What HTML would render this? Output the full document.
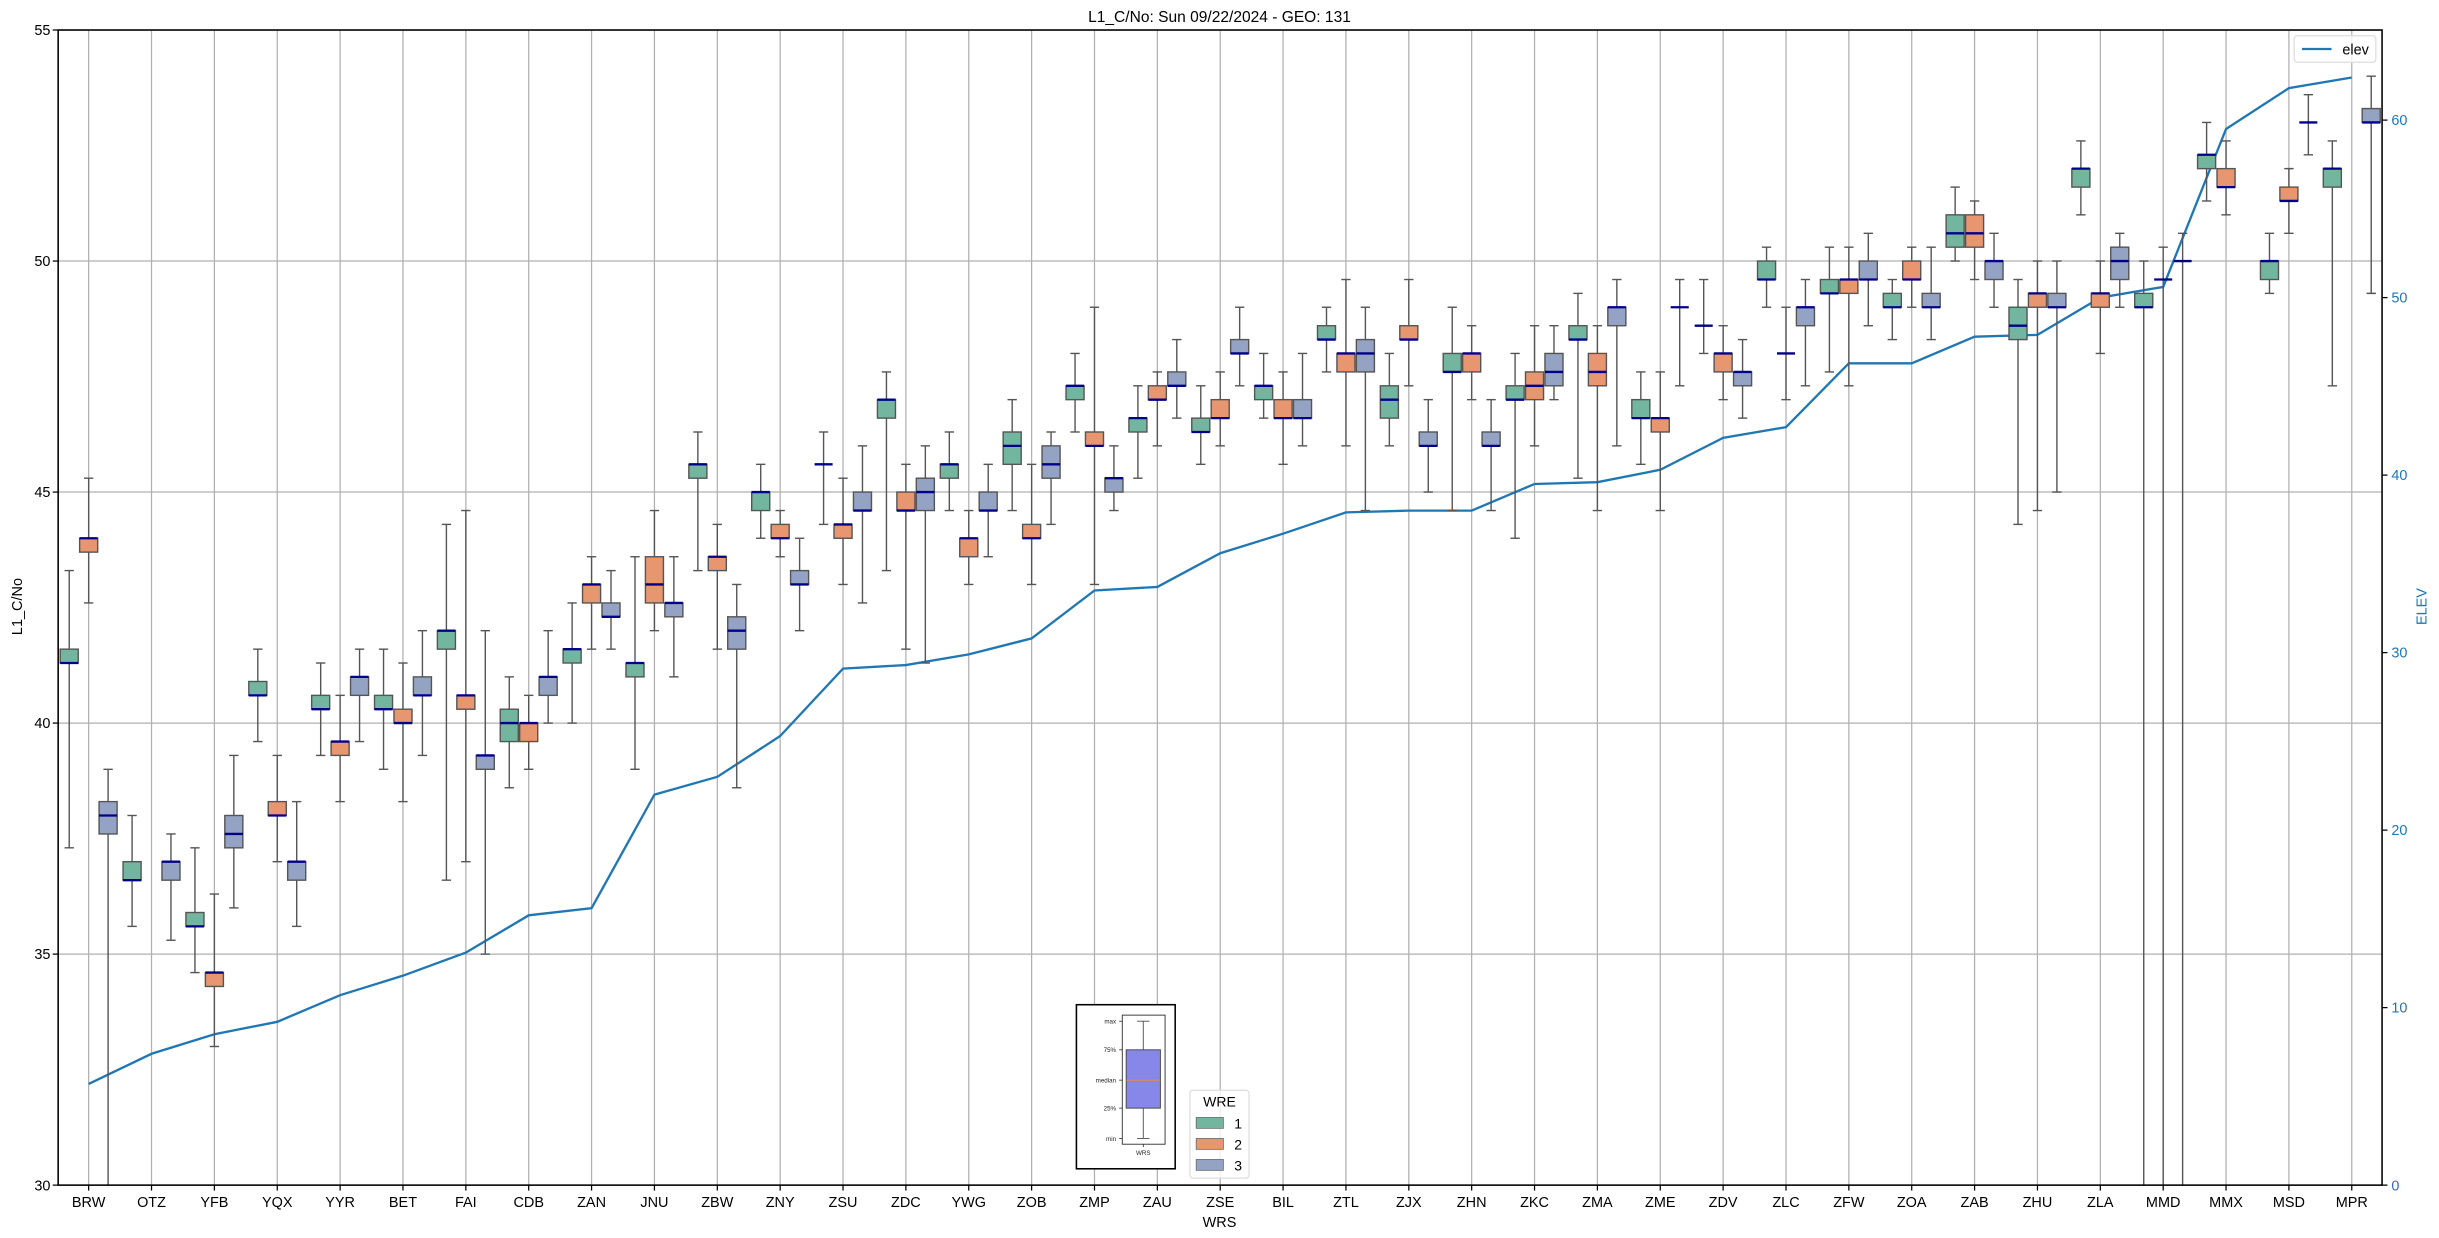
<!DOCTYPE html>
<html><head><meta charset="utf-8">
<style>
html,body{margin:0;padding:0;background:#fff;width:2439px;height:1238px;overflow:hidden;}
svg{display:block;}
text{font-family:"Liberation Sans","DejaVu Sans",sans-serif;}
</style></head>
<body>
<svg id="chart" width="2439" height="1238" viewBox="0 0 1568 796" xmlns="http://www.w3.org/2000/svg">
<defs><clipPath id="plotclip"><rect x="37.3" y="19.3" width="1494" height="742.7"/></clipPath></defs>
<rect x="0" y="0" width="1568" height="796" fill="#fff"/>
<g id="grid"></g>
<g id="elevg" clip-path="url(#plotclip)"></g>
<g id="boxes" clip-path="url(#plotclip)"></g>
<g id="axes"></g>
<text x="784" y="14" text-anchor="middle" font-size="10">L1_C/No: Sun 09/22/2024 - GEO: 131</text>
<text x="784" y="789" text-anchor="middle" font-size="9.3">WRS</text>
<text x="14" y="390" text-anchor="middle" font-size="9.3" transform="rotate(-90 14 390)">L1_C/No</text>
<text x="1560" y="390" text-anchor="middle" font-size="9.3" fill="#1f77b4" transform="rotate(-90 1560 390)">ELEV</text>

<g>
<rect x="692" y="646" width="63.5" height="105.5" fill="#fff" stroke="#000" stroke-width="1"/>
<rect x="721.5" y="652.7" width="27.5" height="83" fill="#fff" stroke="#333" stroke-width="0.6"/>
<line x1="735" y1="656.6" x2="735" y2="732" stroke="#555" stroke-width="0.6"/>
<line x1="731" y1="656.6" x2="739" y2="656.6" stroke="#555" stroke-width="0.6"/>
<line x1="731" y1="732" x2="739" y2="732" stroke="#555" stroke-width="0.6"/>
<rect x="724" y="675" width="22" height="37.5" fill="#8787ea" stroke="#444" stroke-width="0.6"/>
<line x1="724" y1="694.5" x2="746" y2="694.5" stroke="#ff8c00" stroke-width="0.5"/>
<g font-size="4" fill="#222" text-anchor="end">
<text x="717.5" y="658">max</text><text x="717.5" y="676.5">75%</text><text x="717.5" y="696">median</text><text x="717.5" y="714">25%</text><text x="717.5" y="733.5">min</text>
</g>
<g stroke="#222" stroke-width="0.5">
<line x1="719.5" y1="656.6" x2="721.5" y2="656.6"/><line x1="719.5" y1="675" x2="721.5" y2="675"/><line x1="719.5" y1="694.5" x2="721.5" y2="694.5"/><line x1="719.5" y1="712.5" x2="721.5" y2="712.5"/><line x1="719.5" y1="732" x2="721.5" y2="732"/>
<line x1="735" y1="735.7" x2="735" y2="737.5"/>
</g>
<text x="735" y="742.5" font-size="4" text-anchor="middle" fill="#222">WRS</text>
</g>

<g>
<rect x="765" y="701" width="38" height="56.5" rx="2" fill="#fff" fill-opacity="0.8" stroke="#ddd" stroke-width="0.8"/>
<text x="784" y="711.5" font-size="9" text-anchor="middle">WRE</text>
<rect x="769" y="718.5" width="17.5" height="7" fill="#72b6a0" stroke="#666" stroke-width="0.5"/>
<text x="793.5" y="725.5" font-size="9">1</text>
<rect x="769" y="732" width="17.5" height="7" fill="#e8966f" stroke="#666" stroke-width="0.5"/>
<text x="793.5" y="739" font-size="9">2</text>
<rect x="769" y="745.5" width="17.5" height="7" fill="#94a3c4" stroke="#666" stroke-width="0.5"/>
<text x="793.5" y="752.5" font-size="9">3</text>
</g>

<g>
<rect x="1475" y="23" width="52.5" height="17" rx="2" fill="#fff" fill-opacity="0.8" stroke="#ddd" stroke-width="0.8"/>
<line x1="1480" y1="31.5" x2="1499" y2="31.5" stroke="#1f77b4" stroke-width="1.5"/>
<text x="1506" y="35" font-size="9.3">elev</text>
</g>

<script>
const categories = ["BRW","OTZ","YFB","YQX","YYR","BET","FAI","CDB","ZAN","JNU","ZBW","ZNY","ZSU","ZDC","YWG","ZOB","ZMP","ZAU","ZSE","BIL","ZTL","ZJX","ZHN","ZKC","ZMA","ZME","ZDV","ZLC","ZFW","ZOA","ZAB","ZHU","ZLA","MMD","MMX","MSD","MPR"];
// [min, q1, median, q3, max]
const wre1 = [
[37.3,41.3,41.3,41.6,43.3],[35.6,36.6,36.6,37.0,38.0],[34.6,35.6,35.6,35.9,37.3],[39.6,40.6,40.6,40.9,41.6],[39.3,40.3,40.3,40.6,41.3],
[39.0,40.3,40.3,40.6,41.6],[36.6,41.6,42.0,42.0,44.3],[38.6,39.6,40.0,40.3,41.0],[40.0,41.3,41.6,41.6,42.6],[39.0,41.0,41.3,41.3,43.6],
[43.3,45.3,45.6,45.6,46.3],[44.0,44.6,45.0,45.0,45.6],[44.3,45.6,45.6,45.6,46.3],[43.3,46.6,47.0,47.0,47.6],[44.6,45.3,45.6,45.6,46.3],
[44.6,45.6,46.0,46.3,47.0],[46.3,47.0,47.3,47.3,48.0],[45.3,46.3,46.6,46.6,47.3],[45.6,46.3,46.3,46.6,47.3],[46.6,47.0,47.3,47.3,48.0],
[47.6,48.3,48.3,48.6,49.0],[46.0,46.6,47.0,47.3,48.0],[44.6,47.6,47.6,48.0,49.0],[44.0,47.0,47.0,47.3,48.0],[45.3,48.3,48.3,48.6,49.3],
[45.6,46.6,46.6,47.0,47.6],[48.0,48.6,48.6,48.6,49.6],[49.0,49.6,49.6,50.0,50.3],[47.6,49.3,49.3,49.6,50.3],[48.3,49.0,49.0,49.3,49.6],
[50.0,50.3,50.6,51.0,51.6],[44.3,48.3,48.6,49.0,49.6],[51.0,51.6,52.0,52.0,52.6],[29.0,49.0,49.0,49.3,50.0],[51.3,52.0,52.3,52.3,53.0],
[49.3,49.6,50.0,50.0,50.6],[47.3,51.6,52.0,52.0,52.6]];
const wre2 = [
[42.6,43.7,44.0,44.0,45.3],null,[33.0,34.3,34.6,34.6,36.3],[37.0,38.0,38.0,38.3,39.3],[38.3,39.3,39.6,39.6,40.6],
[38.3,40.0,40.0,40.3,41.3],[37.0,40.3,40.6,40.6,44.6],[39.0,39.6,40.0,40.0,40.6],[41.6,42.6,43.0,43.0,43.6],[42.0,42.6,43.0,43.6,44.6],
[41.6,43.3,43.6,43.6,44.3],[43.6,44.0,44.0,44.3,44.6],[43.0,44.0,44.3,44.3,45.3],[41.6,44.6,44.6,45.0,45.6],[43.0,43.6,44.0,44.0,44.6],
[43.0,44.0,44.0,44.3,45.6],[43.0,46.0,46.0,46.3,49.0],[46.0,47.0,47.0,47.3,47.6],[46.0,46.6,46.6,47.0,47.6],[45.6,46.6,46.6,47.0,47.6],
[46.0,47.6,48.0,48.0,49.6],[47.3,48.3,48.3,48.6,49.6],[47.0,47.6,48.0,48.0,48.6],[46.0,47.0,47.3,47.6,48.6],[44.6,47.3,47.6,48.0,48.6],
[44.6,46.3,46.6,46.6,47.6],[47.0,47.6,48.0,48.0,48.6],[47.0,48.0,48.0,48.0,49.0],[47.3,49.3,49.6,49.6,50.3],[49.0,49.6,49.6,50.0,50.3],
[49.6,50.3,50.6,51.0,51.3],[44.6,49.0,49.3,49.3,50.0],[48.0,49.0,49.3,49.3,50.0],[29.0,49.6,49.6,49.6,50.3],[51.0,51.6,51.6,52.0,52.6],
[50.6,51.3,51.3,51.6,52.0],null];
const wre3 = [
[29.0,37.6,38.0,38.3,39.0],[35.3,36.6,37.0,37.0,37.6],[36.0,37.3,37.6,38.0,39.3],[35.6,36.6,37.0,37.0,38.3],[39.6,40.6,41.0,41.0,41.6],
[39.3,40.6,40.6,41.0,42.0],[35.0,39.0,39.3,39.3,42.0],[40.0,40.6,41.0,41.0,42.0],[41.6,42.3,42.3,42.6,43.3],[41.0,42.3,42.6,42.6,43.6],
[38.6,41.6,42.0,42.3,43.0],[42.0,43.0,43.0,43.3,44.0],[42.6,44.6,44.6,45.0,46.0],[41.3,44.6,45.0,45.3,46.0],[43.6,44.6,44.6,45.0,45.6],
[44.3,45.3,45.6,46.0,46.3],[44.6,45.0,45.3,45.3,46.0],[46.6,47.3,47.3,47.6,48.3],[47.3,48.0,48.0,48.3,49.0],[46.0,46.6,46.6,47.0,48.0],
[44.6,47.6,48.0,48.3,49.0],[45.0,46.0,46.0,46.3,47.0],[44.6,46.0,46.0,46.3,47.0],[47.0,47.3,47.6,48.0,48.6],[46.0,48.6,49.0,49.0,49.6],
[47.3,49.0,49.0,49.0,49.6],[46.6,47.3,47.6,47.6,48.3],[47.3,48.6,49.0,49.0,49.6],[48.6,49.6,49.6,50.0,50.6],[48.3,49.0,49.0,49.3,50.3],
[49.0,49.6,50.0,50.0,50.6],[45.0,49.0,49.0,49.3,50.0],[49.0,49.6,50.0,50.3,50.6],[29.0,50.0,50.0,50.0,50.6],null,
[52.3,53.0,53.0,53.0,53.6],[49.3,53.0,53.0,53.3,54.0]];
const elev = [5.7,7.4,8.5,9.2,10.7,11.8,13.1,15.2,15.6,22.0,23.0,25.3,29.1,29.3,29.9,30.8,33.5,33.7,35.6,36.7,37.9,38.0,38.0,39.5,39.6,40.3,42.1,42.7,46.3,46.3,47.8,47.9,50.0,50.6,59.5,61.8,62.4];
const yTicks = [30,35,40,45,50,55];
const elevTicks = [0,10,20,30,40,50,60];

const NS = "http://www.w3.org/2000/svg";
const L = 37.3, R = 1531.5, T = 19.3, B = 762;
const X0 = 56.9, DX = 40.42;
function xPos(i){ return X0 + i*DX; }
function yPos(v){ return B - (v-30)/25*(B-T); }
function yElev(v){ return B - v*11.413; }
function mk(tag, attrs, parent){ const e=document.createElementNS(NS,tag); for(const k in attrs) e.setAttribute(k, attrs[k]); parent.appendChild(e); return e; }

const grid = document.getElementById('grid');
const axes = document.getElementById('axes');
yTicks.forEach(function(t){
  const y=yPos(t);
  const g=mk('line',{x1:L,x2:R,y1:y,y2:y,stroke:'#b0b0b0','stroke-width':0.8},grid);
  
  
  mk('line',{x1:L-3.5,x2:L,y1:y,y2:y,stroke:'#000','stroke-width':0.8},axes);
  const tx=mk('text',{x:L-5,y:y+3.3,'text-anchor':'end','font-size':9.3},axes);
  tx.textContent=t;
  
  
});
categories.forEach(function(c,i){
  const x=xPos(i);
  const g=mk('line',{x1:x,x2:x,y1:T,y2:B,stroke:'#b0b0b0','stroke-width':0.8},grid);
  
  
  mk('line',{x1:x,x2:x,y1:B,y2:B+3.5,stroke:'#000','stroke-width':0.8},axes);
  const tx=mk('text',{x:x,y:776,'text-anchor':'middle','font-size':9.3},axes);
  tx.textContent=c;
  
  
});
elevTicks.forEach(function(t){
  const y=yElev(t);
  mk('line',{x1:R,x2:R+3.5,y1:y,y2:y,stroke:'#000','stroke-width':0.8},axes);
  const tx=mk('text',{x:R+6,y:y+3.3,'font-size':9.3,fill:'#1f77b4'},axes);
  tx.textContent=t;
  
  
});
const frame=mk('rect',{x:L,y:T,width:R-L,height:B-T,fill:'none',stroke:'#000','stroke-width':1},axes);



const boxes=document.getElementById('boxes');
const series=[wre1,wre2,wre3];
const fills=['#72b6a0','#e8966f','#94a3c4'];
const offs=[-12.5,0,12.5];
const BW=11.6, CW=6;
series.forEach(function(s,si){
  s.forEach(function(d,i){
    if(!d) return;
    const x=xPos(i)+offs[si];
    const g=mk('g',{},boxes);
    
    
    const st={stroke:'#555','stroke-width':0.9};
    mk('line',Object.assign({x1:x,x2:x,y1:yPos(d[0]),y2:yPos(d[4])},st),g);
    mk('line',Object.assign({x1:x-CW/2,x2:x+CW/2,y1:yPos(d[0]),y2:yPos(d[0])},st),g);
    mk('line',Object.assign({x1:x-CW/2,x2:x+CW/2,y1:yPos(d[4]),y2:yPos(d[4])},st),g);
    const h=yPos(d[1])-yPos(d[3]);
    if(h>0.3) mk('rect',Object.assign({x:x-BW/2,y:yPos(d[3]),width:BW,height:h,fill:fills[si]},st),g);
    mk('line',{x1:x-BW/2,x2:x+BW/2,y1:yPos(d[2]),y2:yPos(d[2]),stroke:'#00008b','stroke-width':1.5},g);
  });
});

const eg=document.getElementById('elevg');
const pts=elev.map(function(v,i){return xPos(i)+','+yElev(v);}).join(' ');
const pl=mk('polyline',{points:pts,fill:'none',stroke:'#1f77b4','stroke-width':1.5},eg);


</script>
</svg>
</body></html>
